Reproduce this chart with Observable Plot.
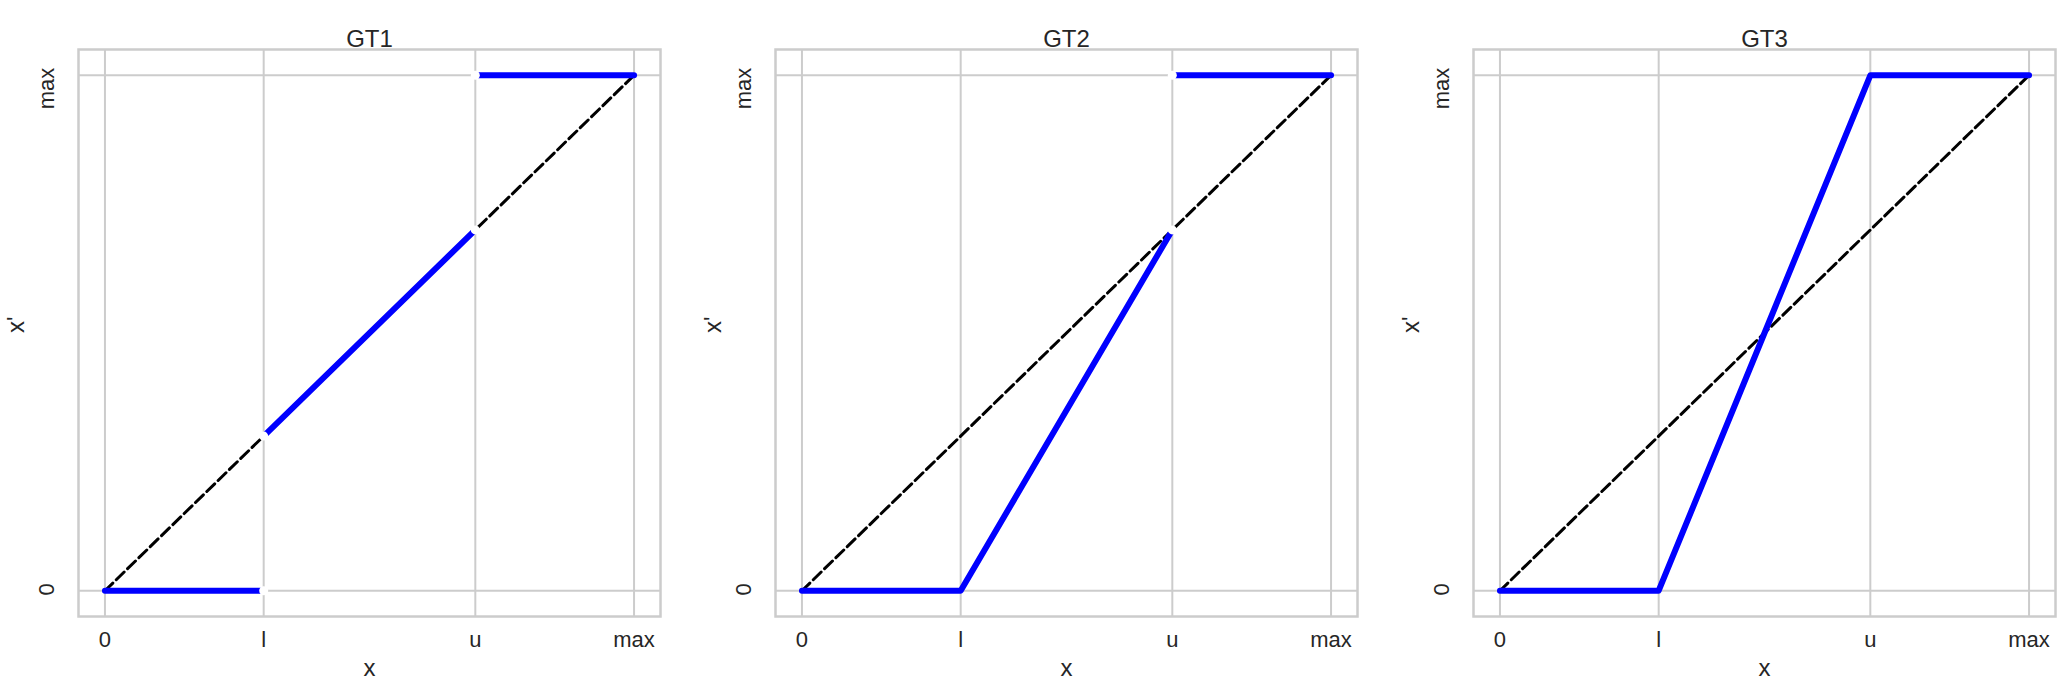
<!DOCTYPE html>
<html>
<head>
<meta charset="utf-8">
<script src="https://cdn.jsdelivr.net/npm/d3@7"></script>
<script src="https://cdn.jsdelivr.net/npm/@observablehq/plot@0.6"></script>
<style>
  html, body { margin: 0; padding: 0; background: #ffffff; overflow: hidden; }
  #chart { position: relative; width: 2062px; height: 698px; overflow: hidden; }
  #chart > div { position: absolute; top: 0; }
  #chart svg { max-width: none !important; }
</style>
</head>
<body>
<div id="chart"></div>
<script>
// ---- data ----
const panelTitles = ["GT1", "GT2", "GT3"];
const xTickValues = [0, 3, 7, 10];
const xTickLabels = ["0", "l", "u", "max"];
const yTickValues = [0, 10];
const yTickLabels = ["0", "max"];
const xLabel = "x";
const yLabel = "x'";

// identity (dashed) reference line
const identityX = [0, 10];
const identityY = [0, 10];

// GT1
const gt1X = [0, 3, 3, 7, 7, 10];
const gt1Y = [0, 0, 3, 7, 10, 10];
const gt1Seg = [0, 0, 1, 1, 2, 2];
const gt1OpenX = [3, 3, 7, 7];
const gt1OpenY = [0, 3, 7, 10];

// GT2
const gt2X = [0, 3, 7, 7, 10];
const gt2Y = [0, 0, 7, 10, 10];
const gt2Seg = [0, 0, 0, 1, 1];
const gt2OpenX = [7, 7];
const gt2OpenY = [7, 10];

// GT3
const gt3X = [0, 3, 7, 10];
const gt3Y = [0, 0, 10, 10];
const gt3Seg = [0, 0, 0, 0];
const gt3OpenX = [];
const gt3OpenY = [];

const series = [
  {x: gt1X, y: gt1Y, seg: gt1Seg, ox: gt1OpenX, oy: gt1OpenY},
  {x: gt2X, y: gt2Y, seg: gt2Seg, ox: gt2OpenX, oy: gt2OpenY},
  {x: gt3X, y: gt3Y, seg: gt3Seg, ox: gt3OpenX, oy: gt3OpenY}
];

// ---- styling / layout ----
const FONT = "'Liberation Sans', Arial, Helvetica, sans-serif";
const TEXT = "#262626";
const GRID = "#cccccc";
const panelLefts = [0, 697, 1395];
const panelWidths = [697, 698, 667];
const frameWidth = 582;
const marginLeft = 78;

const chart = document.getElementById("chart");

panelTitles.forEach((title, p) => {
  const s = series[p];
  const idx = d3.range(s.x.length);
  const oidx = d3.range(s.ox.length);
  const iidx = d3.range(identityX.length);

  const plot = Plot.plot({
    width: panelWidths[p],
    height: 698,
    marginLeft: marginLeft,
    marginRight: panelWidths[p] - marginLeft - frameWidth,
    marginTop: 49,
    marginBottom: 82,
    style: {fontFamily: FONT, background: "#ffffff", color: TEXT, overflow: "visible"},
    x: {domain: [-0.5, 10.5], axis: null},
    y: {domain: [-0.5, 10.5], axis: null},
    marks: [
      Plot.ruleX(xTickValues, {x: d => d, stroke: GRID, strokeWidth: 2}),
      Plot.ruleY(yTickValues, {y: d => d, stroke: GRID, strokeWidth: 2}),
      Plot.frame({stroke: GRID, strokeWidth: 2.5}),
      Plot.line(iidx, {
        x: i => identityX[i], y: i => identityY[i],
        stroke: "#000000", strokeWidth: 3, strokeDasharray: "11,4.8"
      }),
      Plot.line(idx, {
        x: i => s.x[i], y: i => s.y[i], z: i => s.seg[i],
        stroke: "#0000ff", strokeWidth: 6,
        strokeLinecap: "round", strokeLinejoin: "round"
      }),
      Plot.dot(oidx, {
        x: i => s.ox[i], y: i => s.oy[i], r: 4.5, fill: "#ffffff", stroke: null
      }),
      // x tick labels
      Plot.text(xTickValues, {
        x: d => d, text: (d, i) => xTickLabels[i],
        frameAnchor: "bottom", dy: 30, fontSize: 22, fill: TEXT
      }),
      // y tick labels (rotated)
      Plot.text(yTickValues, {
        y: d => d, text: (d, i) => yTickLabels[i],
        frameAnchor: "left", dx: -32, dy: -7.5, rotate: -90,
        textAnchor: "end", fontSize: 22, fill: TEXT
      }),
      // axis labels
      Plot.text([xLabel], {text: d => d, frameAnchor: "bottom", dy: 59, fontSize: 24, fill: TEXT}),
      Plot.text([yLabel], {text: d => d, frameAnchor: "left", dx: -62, rotate: -90, fontSize: 24, fill: TEXT}),
      // title
      Plot.text([title], {text: d => d, frameAnchor: "top", dy: -20, fontSize: 24, fill: TEXT})
    ]
  });

  const wrap = document.createElement("div");
  wrap.style.left = panelLefts[p] + "px";
  wrap.style.width = panelWidths[p] + "px";
  wrap.appendChild(plot);
  chart.appendChild(wrap);
});
</script>
</body>
</html>
